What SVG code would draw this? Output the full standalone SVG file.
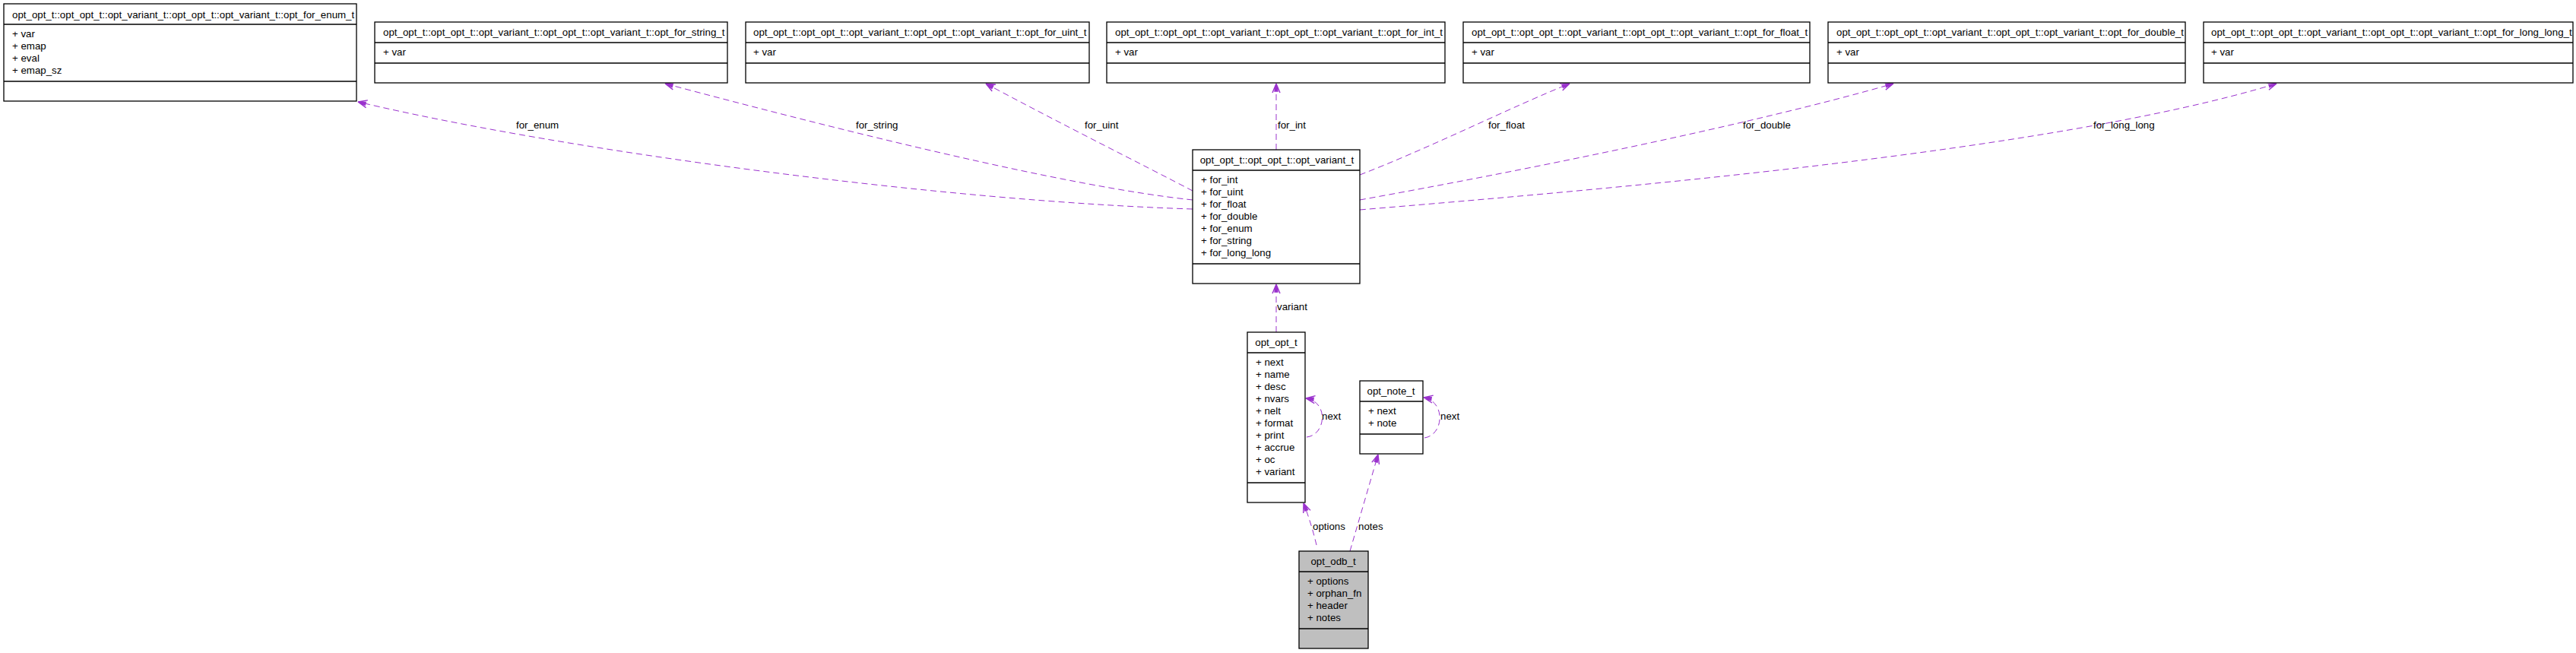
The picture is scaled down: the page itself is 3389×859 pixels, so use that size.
<svg xmlns="http://www.w3.org/2000/svg" width="3389" height="859" viewBox="0 0 3389 859">
<style>
.box{fill:#fff;stroke:#000;stroke-width:1.3}
.gray{fill:#bfbfbf}
.ln{stroke:#000;stroke-width:1.3;fill:none}
text{font-family:"Liberation Sans",Arial,sans-serif;font-size:13.3px;fill:#000}
.mid{text-anchor:middle}
.e{fill:none;stroke:#9a32cd;stroke-width:1;stroke-dasharray:8,5}
</style>
<defs>
<marker id="arr" markerUnits="userSpaceOnUse" markerWidth="16" markerHeight="16" viewBox="-14 -8 16 16" refX="0" refY="0" orient="auto">
<path d="M0,0 L-12,-5 M0,0 L-12,5 M0,0 L-10,-2 L-10,2 Z" fill="#9a32cd" stroke="#9a32cd" stroke-width="1.4"/>
</marker>
<clipPath id="c1"><rect x="5" y="5" width="464" height="128"/></clipPath>
<clipPath id="c2"><rect x="493" y="29" width="464" height="80"/></clipPath>
<clipPath id="c3"><rect x="981" y="29" width="452" height="80"/></clipPath>
<clipPath id="c4"><rect x="1456" y="29" width="445" height="80"/></clipPath>
<clipPath id="c5"><rect x="1925" y="29" width="456" height="80"/></clipPath>
<clipPath id="c6"><rect x="2405" y="29" width="470" height="80"/></clipPath>
<clipPath id="c7"><rect x="2899" y="29" width="486" height="80"/></clipPath>
</defs>
<rect width="3389" height="859" fill="#fff"/>

<g id="edges">
<path class="e" d="M1569,275 C1250,265 750,200 471,134" marker-end="url(#arr)"/>
<path class="e" d="M1569,263 C1400,245 1100,170 875,110" marker-end="url(#arr)"/>
<path class="e" d="M1569,251 C1500,215 1400,165 1297,110" marker-end="url(#arr)"/>
<path class="e" d="M1679,197 L1679,110" marker-end="url(#arr)"/>
<path class="e" d="M1789,230 C1880,195 1990,140 2065,110" marker-end="url(#arr)"/>
<path class="e" d="M1789,263 C2000,225 2300,165 2491,110" marker-end="url(#arr)"/>
<path class="e" d="M1789,276 C2100,250 2700,200 2995,110" marker-end="url(#arr)"/>
<path class="e" d="M1679,437 L1679,374" marker-end="url(#arr)"/>
<path class="e" d="M1719,575 C1745,572 1748,528 1718,524" marker-end="url(#arr)"/>
<path class="e" d="M1874,576 C1900,572 1902,528 1873,523" marker-end="url(#arr)"/>
<path class="e" d="M1732,717 C1728,700 1722,680 1715,662" marker-end="url(#arr)"/>
<path class="e" d="M1776,725 L1813,598" marker-end="url(#arr)"/>
<text x="679" y="169">for_enum</text>
<text x="1126" y="169">for_string</text>
<text x="1427" y="169">for_uint</text>
<text x="1681" y="169">for_int</text>
<text x="1958" y="169">for_float</text>
<text x="2293" y="169">for_double</text>
<text x="2754" y="169">for_long_long</text>
<text x="1680" y="408">variant</text>
<text x="1739" y="552">next</text>
<text x="1895" y="552">next</text>
<text x="1727" y="697">options</text>
<text x="1787" y="697">notes</text>
</g>

<g id="for_enum">
<rect class="box" x="5" y="5" width="464" height="128"/>
<line class="ln" x1="5" y1="32" x2="469" y2="32"/>
<line class="ln" x1="5" y1="107" x2="469" y2="107"/>
<g clip-path="url(#c1)"><text x="16" y="24">opt_opt_t::opt_opt_t::opt_variant_t::opt_opt_t::opt_variant_t::opt_for_enum_t</text></g>
<text x="16" y="49">+ var</text>
<text x="16" y="65">+ emap</text>
<text x="16" y="81">+ eval</text>
<text x="16" y="97">+ emap_sz</text>
</g>

<g id="for_string">
<rect class="box" x="493" y="29" width="464" height="80"/>
<line class="ln" x1="493" y1="56" x2="957" y2="56"/>
<line class="ln" x1="493" y1="83" x2="957" y2="83"/>
<g clip-path="url(#c2)"><text x="504" y="47">opt_opt_t::opt_opt_t::opt_variant_t::opt_opt_t::opt_variant_t::opt_for_string_t</text></g>
<text x="504" y="73">+ var</text>
</g>

<g id="for_uint">
<rect class="box" x="981" y="29" width="452" height="80"/>
<line class="ln" x1="981" y1="56" x2="1433" y2="56"/>
<line class="ln" x1="981" y1="83" x2="1433" y2="83"/>
<g clip-path="url(#c3)"><text x="991" y="47">opt_opt_t::opt_opt_t::opt_variant_t::opt_opt_t::opt_variant_t::opt_for_uint_t</text></g>
<text x="991" y="73">+ var</text>
</g>

<g id="for_int">
<rect class="box" x="1456" y="29" width="445" height="80"/>
<line class="ln" x1="1456" y1="56" x2="1901" y2="56"/>
<line class="ln" x1="1456" y1="83" x2="1901" y2="83"/>
<g clip-path="url(#c4)"><text x="1467" y="47">opt_opt_t::opt_opt_t::opt_variant_t::opt_opt_t::opt_variant_t::opt_for_int_t</text></g>
<text x="1467" y="73">+ var</text>
</g>

<g id="for_float">
<rect class="box" x="1925" y="29" width="456" height="80"/>
<line class="ln" x1="1925" y1="56" x2="2381" y2="56"/>
<line class="ln" x1="1925" y1="83" x2="2381" y2="83"/>
<g clip-path="url(#c5)"><text x="1936" y="47">opt_opt_t::opt_opt_t::opt_variant_t::opt_opt_t::opt_variant_t::opt_for_float_t</text></g>
<text x="1936" y="73">+ var</text>
</g>

<g id="for_double">
<rect class="box" x="2405" y="29" width="470" height="80"/>
<line class="ln" x1="2405" y1="56" x2="2875" y2="56"/>
<line class="ln" x1="2405" y1="83" x2="2875" y2="83"/>
<g clip-path="url(#c6)"><text x="2416" y="47">opt_opt_t::opt_opt_t::opt_variant_t::opt_opt_t::opt_variant_t::opt_for_double_t</text></g>
<text x="2416" y="73">+ var</text>
</g>

<g id="for_long_long">
<rect class="box" x="2899" y="29" width="486" height="80"/>
<line class="ln" x1="2899" y1="56" x2="3385" y2="56"/>
<line class="ln" x1="2899" y1="83" x2="3385" y2="83"/>
<g clip-path="url(#c7)"><text x="2909" y="47">opt_opt_t::opt_opt_t::opt_variant_t::opt_opt_t::opt_variant_t::opt_for_long_long_t</text></g>
<text x="2909" y="73">+ var</text>
</g>

<g id="opt_variant_t">
<rect class="box" x="1569" y="197" width="220" height="176"/>
<line class="ln" x1="1569" y1="224" x2="1789" y2="224"/>
<line class="ln" x1="1569" y1="347" x2="1789" y2="347"/>
<text class="mid" x="1680" y="215">opt_opt_t::opt_opt_t::opt_variant_t</text>
<text x="1580" y="241">+ for_int</text>
<text x="1580" y="257">+ for_uint</text>
<text x="1580" y="273">+ for_float</text>
<text x="1580" y="289">+ for_double</text>
<text x="1580" y="305">+ for_enum</text>
<text x="1580" y="321">+ for_string</text>
<text x="1580" y="337">+ for_long_long</text>
</g>

<g id="opt_opt_t">
<rect class="box" x="1641" y="437" width="76" height="224"/>
<line class="ln" x1="1641" y1="464" x2="1717" y2="464"/>
<line class="ln" x1="1641" y1="635" x2="1717" y2="635"/>
<text class="mid" x="1679" y="455">opt_opt_t</text>
<text x="1652" y="481">+ next</text>
<text x="1652" y="497">+ name</text>
<text x="1652" y="513">+ desc</text>
<text x="1652" y="529">+ nvars</text>
<text x="1652" y="545">+ nelt</text>
<text x="1652" y="561">+ format</text>
<text x="1652" y="577">+ print</text>
<text x="1652" y="593">+ accrue</text>
<text x="1652" y="609">+ oc</text>
<text x="1652" y="625">+ variant</text>
</g>

<g id="opt_note_t">
<rect class="box" x="1789" y="501" width="83" height="96"/>
<line class="ln" x1="1789" y1="528" x2="1872" y2="528"/>
<line class="ln" x1="1789" y1="571" x2="1872" y2="571"/>
<text class="mid" x="1830" y="519">opt_note_t</text>
<text x="1800" y="545">+ next</text>
<text x="1800" y="561">+ note</text>
</g>

<g id="opt_odb_t">
<rect class="box gray" x="1709" y="725" width="91" height="128"/>
<line class="ln" x1="1709" y1="752" x2="1800" y2="752"/>
<line class="ln" x1="1709" y1="827" x2="1800" y2="827"/>
<text class="mid" x="1754" y="743">opt_odb_t</text>
<text x="1720" y="769">+ options</text>
<text x="1720" y="785">+ orphan_fn</text>
<text x="1720" y="801">+ header</text>
<text x="1720" y="817">+ notes</text>
</g>
</svg>
